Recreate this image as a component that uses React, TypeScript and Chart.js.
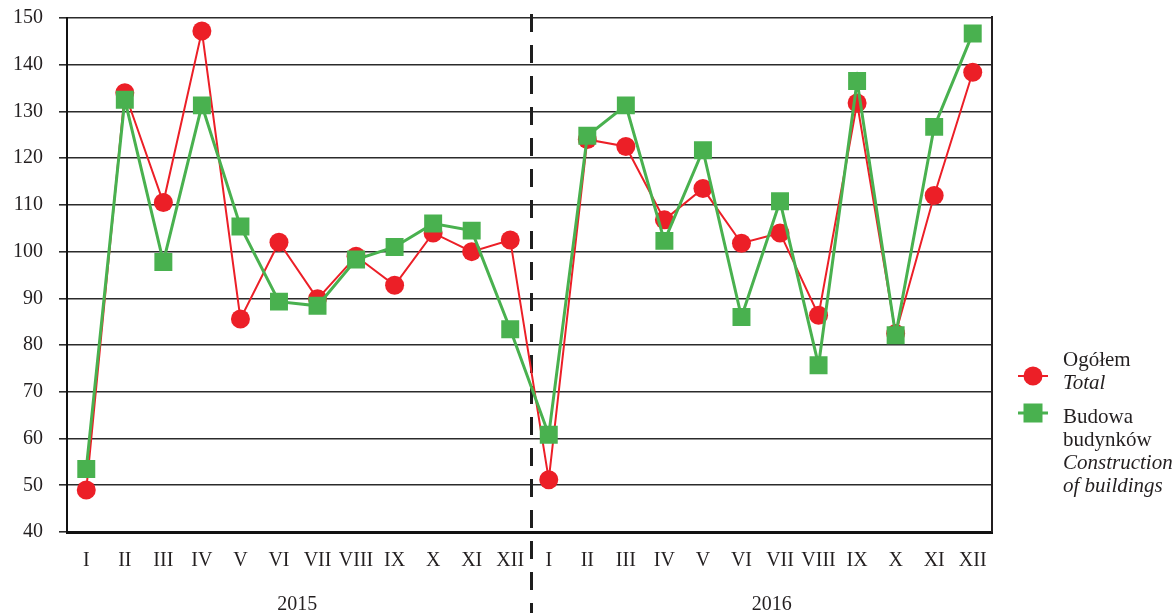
import React, { useEffect, useRef } from "react";
import { Chart, registerables } from "chart.js";

Chart.register(...registerables);

const months = ["I", "II", "III", "IV", "V", "VI", "VII", "VIII", "IX", "X", "XI", "XII"];
const categories = [...months, ...months];
const years = ["2015", "2016"];

const totalValues = [
  49.0, 134.0, 110.5, 147.2, 85.6, 102.0, 89.9, 99.0, 92.8, 104.0, 100.0, 102.5,
  51.2, 124.0, 122.5, 106.8, 113.5, 101.8, 104.0, 86.4, 131.8, 82.5, 112.0, 138.4,
];
const buildingValues = [
  53.5, 132.5, 97.8, 131.3, 105.4, 89.3, 88.4, 98.3, 101.0, 106.0, 104.5, 83.4,
  60.8, 124.8, 131.3, 102.3, 121.7, 86.0, 110.8, 75.7, 136.5, 82.1, 126.7, 146.7,
];

const totalLabel = ["Ogółem", "Total"];
const buildingLabel = ["Budowa", "budynków", "Construction", "of buildings"];

const RED = "#ec1f27";
const GREEN = "#49b14f";
const INK = "#231f20";
const FONT = "'Liberation Serif', 'Times New Roman', serif";

const decorPlugin = {
  id: "decor",
  beforeDatasetsDraw(chart: any) {
    const { ctx, chartArea, scales } = chart;
    const x = scales.x;
    ctx.save();
    // right border
    ctx.strokeStyle = INK;
    ctx.lineWidth = 2;
    ctx.beginPath();
    ctx.moveTo(chartArea.right, chartArea.top - 2);
    ctx.lineTo(chartArea.right, chartArea.bottom);
    ctx.stroke();
    // dashed year separator
    const sx = (x.getPixelForValue(11) + x.getPixelForValue(12)) / 2 + 2;
    ctx.strokeStyle = "#1e1e1e";
    ctx.lineWidth = 3;
    ctx.setLineDash([18, 13]);
    ctx.beginPath();
    ctx.moveTo(sx, 14);
    ctx.lineTo(sx, chart.height);
    ctx.stroke();
    ctx.restore();
  },
  afterDraw(chart: any) {
    const { ctx, scales } = chart;
    const x = scales.x;
    ctx.save();
    ctx.fillStyle = INK;
    ctx.font = `20px ${FONT}`;
    ctx.textBaseline = "alphabetic";

    // year labels
    ctx.textAlign = "center";
    const c1 = (x.getPixelForValue(0) + x.getPixelForValue(11)) / 2 - 1;
    const c2 = (x.getPixelForValue(12) + x.getPixelForValue(23)) / 2 + 11;
    ctx.fillText(years[0], c1, 610);
    ctx.fillText(years[1], c2, 610);

    // legend
    const lx0 = 1018, lx1 = 1048, lcx = 1033;
    ctx.lineWidth = 2;
    ctx.strokeStyle = RED;
    ctx.beginPath();
    ctx.moveTo(lx0, 376);
    ctx.lineTo(lx1, 376);
    ctx.stroke();
    ctx.fillStyle = RED;
    ctx.beginPath();
    ctx.arc(lcx, 376, 9.5, 0, Math.PI * 2);
    ctx.fill();

    ctx.lineWidth = 3;
    ctx.strokeStyle = GREEN;
    ctx.beginPath();
    ctx.moveTo(lx0, 413);
    ctx.lineTo(lx1, 413);
    ctx.stroke();
    ctx.fillStyle = GREEN;
    ctx.fillRect(lcx - 9.5, 413 - 9.5, 19, 19);

    ctx.fillStyle = INK;
    ctx.textAlign = "left";
    const tx = 1063;
    ctx.font = `21px ${FONT}`;
    ctx.fillText(totalLabel[0], tx, 366);
    ctx.font = `italic 21px ${FONT}`;
    ctx.fillText(totalLabel[1], tx, 389);
    ctx.font = `21px ${FONT}`;
    ctx.fillText(buildingLabel[0], tx, 423);
    ctx.fillText(buildingLabel[1], tx, 446);
    ctx.font = `italic 21px ${FONT}`;
    ctx.fillText(buildingLabel[2], tx, 469);
    ctx.fillText(buildingLabel[3], tx, 492);
    ctx.restore();
  },
};

export default function App() {
  const ref = useRef<HTMLCanvasElement>(null);
  useEffect(() => {
    document.body.style.margin = "0";
    const chart = new Chart(ref.current!, {
      type: "line",
      data: {
        labels: categories,
        datasets: [
          {
            label: totalLabel.join(" "),
            data: totalValues,
            borderColor: RED,
            backgroundColor: RED,
            borderWidth: 2,
            pointStyle: "circle",
            pointRadius: 9.5,
            pointBorderWidth: 0,
            pointBackgroundColor: RED,
            tension: 0,
            order: 1,
          },
          {
            label: buildingLabel.join(" "),
            data: buildingValues,
            borderColor: GREEN,
            backgroundColor: GREEN,
            borderWidth: 3,
            pointStyle: "rect",
            pointRadius: 12.7,
            pointBorderWidth: 0,
            pointBackgroundColor: GREEN,
            tension: 0,
            order: 0,
          },
        ],
      },
      options: {
        animation: false,
        responsive: false,
        maintainAspectRatio: false,
        layout: { padding: { top: 18, right: 183, left: 0, bottom: 0 } },
        plugins: { legend: { display: false }, tooltip: { enabled: false } },
        scales: {
          x: {
            type: "category",
            offset: true,
            grid: { display: false, drawTicks: false },
            border: { display: true, color: "#111", width: 3 },
            ticks: {
              autoSkip: false,
              maxRotation: 0,
              padding: 17,
              color: INK,
              font: { family: FONT, size: 20 },
            },
            afterFit: (s: any) => {
              s.height = 81;
              s.paddingLeft = 0;
              s.paddingRight = 0;
            },
          },
          y: {
            min: 40,
            max: 150,
            ticks: {
              stepSize: 10,
              padding: 16,
              color: INK,
              font: { family: FONT, size: 20 },
            },
            grid: { color: "#2b2b2b", lineWidth: 1.6, tickLength: 8, drawTicks: true },
            border: { display: true, color: "#111", width: 2 },
            afterFit: (s: any) => {
              s.width = 67;
              s.paddingTop = 0;
              s.paddingBottom = 0;
            },
          },
        },
      },
      plugins: [decorPlugin],
    });
    return () => chart.destroy();
  }, []);
  return (
    <div style={{ width: 1175, height: 613 }}>
      <canvas ref={ref} width={1175} height={613} style={{ display: "block" }} />
    </div>
  );
}
